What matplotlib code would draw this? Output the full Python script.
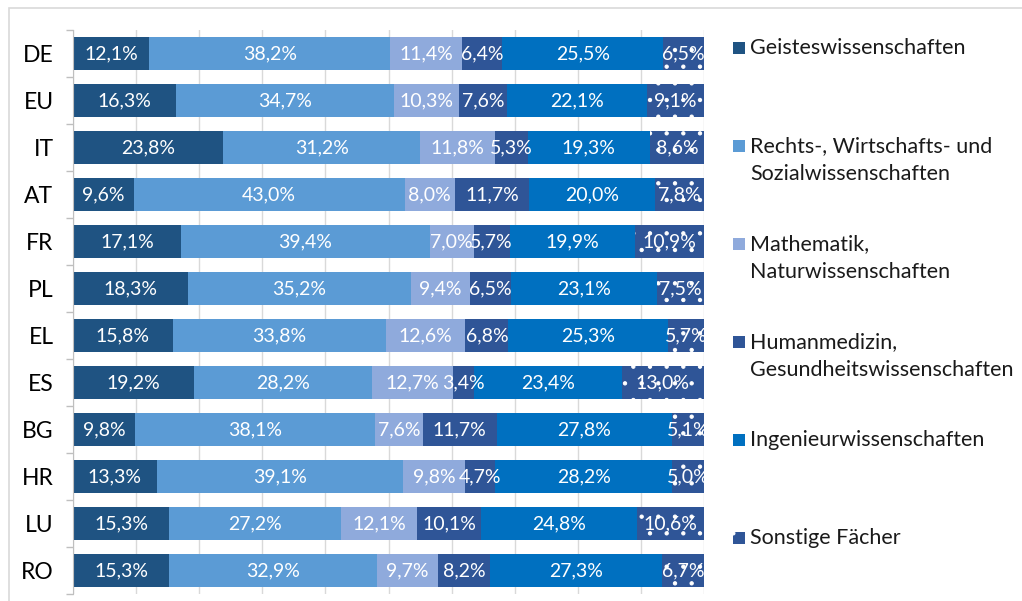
import matplotlib
matplotlib.use("Agg")
import matplotlib.pyplot as plt
from matplotlib.patches import Rectangle
import numpy as np

plt.rcParams['font.family'] = ['Lato', 'DejaVu Sans']
plt.rcParams['hatch.linewidth'] = 0.7

countries = ["DE", "EU", "IT", "AT", "FR", "PL", "EL", "ES", "BG", "HR", "LU", "RO"]
series_names = ["Geisteswissenschaften",
                "Rechts-, Wirtschafts- und\nSozialwissenschaften",
                "Mathematik,\nNaturwissenschaften",
                "Humanmedizin,\nGesundheitswissenschaften",
                "Ingenieurwissenschaften",
                "Sonstige Fächer"]
geistes = [12.1, 16.3, 23.8, 9.6, 17.1, 18.3, 15.8, 19.2, 9.8, 13.3, 15.3, 15.3]
rechts = [38.2, 34.7, 31.2, 43.0, 39.4, 35.2, 33.8, 28.2, 38.1, 39.1, 27.2, 32.9]
mathe = [11.4, 10.3, 11.8, 8.0, 7.0, 9.4, 12.6, 12.7, 7.6, 9.8, 12.1, 9.7]
human = [6.4, 7.6, 5.3, 11.7, 5.7, 6.5, 6.8, 3.4, 11.7, 4.7, 10.1, 8.2]
ingenieur = [25.5, 22.1, 19.3, 20.0, 19.9, 23.1, 25.3, 23.4, 27.8, 28.2, 24.8, 27.3]
sonstige = [6.5, 9.1, 8.6, 7.8, 10.9, 7.5, 5.7, 13.0, 5.1, 5.0, 10.6, 6.7]

colors = ["#1F5382", "#5B9BD5", "#8FAADC", "#2F5597", "#0070C0", "#2F5597"]
hatches = [None, None, None, None, None, "."]

data = np.array([geistes, rechts, mathe, human, ingenieur, sonstige])
totals = data.sum(axis=0)
norm = data / totals * 100

fig = plt.figure(figsize=(10.22, 6.01), dpi=100)
# chart border
fig.patches.append(Rectangle((9 / 1022, -0.2), 1.2, 1 - 8 / 601 + 0.2,
                             transform=fig.transFigure, fill=False,
                             edgecolor="#D9D9D9", linewidth=1.2))

ax = fig.add_axes([73 / 1022, 1 - 594 / 601, (704 - 73) / 1022, (594 - 30) / 601])
y = np.arange(len(countries))
left = np.zeros(len(countries))
for i in range(len(series_names)):
    ax.barh(y, norm[i], left=left, height=0.7, color=colors[i],
            edgecolor="white" if hatches[i] else colors[i],
            linewidth=0, hatch=hatches[i], zorder=2)
    for j in range(len(countries)):
        val = data[i][j]
        txt = f"{val:.1f}".replace(".", ",") + "%"
        ax.text(left[j] + norm[i][j] / 2, y[j], txt, ha="center", va="center",
                color="white", fontsize=14, zorder=4)
    left += norm[i]

ax.set_xlim(0, 100)
ax.set_ylim(len(countries) - 0.5, -0.5)
ax.set_xticks(np.arange(0, 101, 10))
ax.tick_params(axis="x", length=0, labelbottom=False)
ax.grid(axis="x", color="#D9D9D9", linewidth=1, zorder=0)
ax.set_axisbelow(True)
ax.set_yticks(y)
ax.set_yticklabels(countries, fontsize=16.5)
ax.set_yticks(np.arange(-0.5, len(countries), 1), minor=True)
ax.tick_params(axis="y", which="major", length=0, pad=14)
ax.tick_params(axis="y", which="minor", length=5, color="#BFBFBF", width=1)
for s in ["top", "right", "bottom"]:
    ax.spines[s].set_visible(False)
ax.spines["left"].set_color("#BFBFBF")

# legend
W, H = 1022, 601
for i, name in enumerate(series_names):
    ypix = 48 + 98 * i
    fig.patches.append(Rectangle((733 / W, 1 - (ypix + 6) / H), 12 / W, 12 / H,
                                 transform=fig.transFigure, facecolor=colors[i],
                                 edgecolor="white" if hatches[i] else colors[i],
                                 linewidth=0, hatch=hatches[i]))
    for k, line in enumerate(name.split("\n")):
        fig.text(750 / W, 1 - (ypix + 28 * k) / H, line, ha="left", va="center",
                 fontsize=15.5, color="#1A1A1A")

fig.savefig("out.png", dpi=100)
